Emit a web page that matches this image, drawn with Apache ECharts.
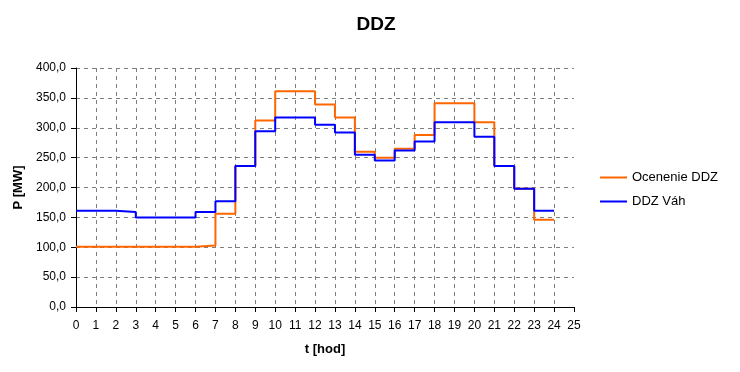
<!DOCTYPE html>
<html><head><meta charset="utf-8">
<script src="https://cdn.jsdelivr.net/npm/echarts@6/dist/echarts.min.js"></script>
<style>html,body{margin:0;padding:0;background:#fff}#c{width:740px;height:372px}</style>
</head><body><div id="c"></div>
<script>
const hours = [0,1,2,3,4,5,6,7,8,9,10,11,12,13,14,15,16,17,18,19,20,21,22,23];
const ocenenie = [101,101,101,101,101,101,103,156,236,312,361,361,339,317,260,250,265,288,341,341,309,236,198,146];
const vah = [161,161,159,150,150,150,159,177,236,294,317,317,305,292,255,245,262,277,309,309,285,236,198,161];
const seriesNames = ['Ocenenie DDZ','DDZ Váh'];
const colors = ['#FF6600','#0000FF'];
const yMin = 0, yMax = 400, yStep = 50;
const xMin = 0, xMax = 25, xStep = 1;

function stepData(vals){
  const d = hours.map((h,i)=>[h, vals[i]]);
  d.push([hours[hours.length-1]+1, vals[vals.length-1]]);
  return d;
}
const font = 'Liberation Sans, Arial, sans-serif';
const chart = echarts.init(document.getElementById('c'), null, {renderer:'canvas'});
chart.setOption({
  animation:false,
  backgroundColor:'#fff',
  title:{text:'DDZ', left:371, textAlign:'center', top:10,
    textStyle:{fontFamily:font, fontSize:19, fontWeight:'bold', color:'#000'}},
  legend:{orient:'vertical', left:595, top:166, itemGap:11, itemWidth:27, itemHeight:2, icon:'rect',
    data:seriesNames, textStyle:{fontFamily:font, fontSize:13, color:'#000'}},
  grid:{left:76, right:166, top:68, bottom:65},
  xAxis:{type:'value', min:xMin, max:xMax, interval:xStep,
    name:'t [hod]', nameLocation:'middle', nameGap:36,
    nameTextStyle:{fontFamily:font, fontSize:13, fontWeight:'bold', color:'#000'},
    axisLine:{lineStyle:{color:'#000', width:1}},
    axisTick:{length:5, lineStyle:{color:'#000'}},
    axisLabel:{fontFamily:font, fontSize:12, color:'#000', margin:13},
    splitLine:{show:true, showMaxLine:false, lineStyle:{color:'#808080', type:[4,4], width:1}}},
  yAxis:{type:'value', min:yMin, max:yMax, interval:yStep,
    name:'P [MW]', nameLocation:'middle', nameGap:50, nameRotate:90,
    nameTextStyle:{fontFamily:font, fontSize:13, fontWeight:'bold', color:'#000'},
    axisLine:{show:true, lineStyle:{color:'#000', width:1}},
    axisTick:{show:true, length:5, lineStyle:{color:'#000'}},
    axisLabel:{fontFamily:font, fontSize:12, color:'#000', margin:10,
      formatter:v=>v.toFixed(1).replace('.', ',')},
    splitLine:{show:true, lineStyle:{color:'#808080', type:[4,4], width:1}}},
  series:[
    {name:seriesNames[0], type:'line', step:'end', data:stepData(ocenenie), symbol:'none',
      color:colors[0], lineStyle:{color:colors[0], width:2}},
    {name:seriesNames[1], type:'line', step:'end', data:stepData(vah), symbol:'none',
      color:colors[1], lineStyle:{color:colors[1], width:2}}
  ]
});
</script></body></html>
